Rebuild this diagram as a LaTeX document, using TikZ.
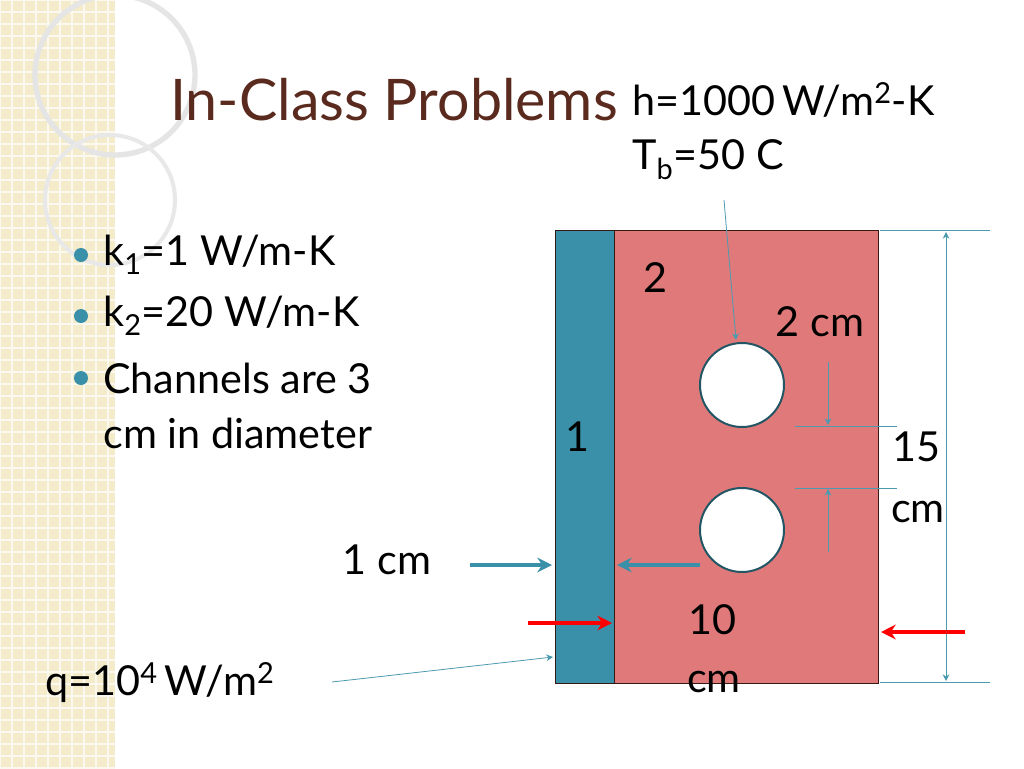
\documentclass[tikz,border=0pt]{standalone}
\usepackage{fontspec}
\setmainfont{Lato}
\usetikzlibrary{arrows.meta}
\definecolor{teal1}{HTML}{3A90A8}
\definecolor{pinkc}{HTML}{E07A7A}
\definecolor{brownc}{HTML}{5A2A1E}
\definecolor{thinc}{HTML}{4A9AB0}
\definecolor{beige}{HTML}{F3EBC9}
\tikzset{
 txt/.style={font=\fontsize{31}{34}\selectfont, inner sep=0pt},
 thin/.style={draw=thinc, line width=0.6pt},
 tarrow/.style={draw=teal1, line width=2.5pt, -{Stealth[length=11pt,width=11pt]}},
 rarrow/.style={draw=red, line width=2.5pt, -{Stealth[length=11pt,width=11pt]}},
 darr/.style={thin, -{Stealth[length=5pt,width=5pt]}}
}
\begin{document}
\begin{tikzpicture}[x=0.75pt,y=-0.75pt]
\useasboundingbox (0,0) rectangle (1024,768);
\fill[white] (0,0) rectangle (1024,768);
\fill[beige] (0,0) rectangle (115,768);
\foreach \i in {0,12,...,768} \draw[white!70!beige, line width=0.8pt] (0,\i) -- (115,\i);
\foreach \i in {0,12,...,115} \draw[white!70!beige, line width=0.8pt] (\i,0) -- (\i,768);
\draw[gray!20, line width=4pt] (115,75) circle (80);
\draw[gray!18, line width=3pt] (110,200) circle (65);
\node[anchor=west, font=\fontsize{43}{46}\selectfont, text=brownc, inner sep=0pt] (title) at (170,100) {In-Class Problems};
% bullets
\foreach \y/\t [count=\k] in {255/{k\textsubscript{1}=1 W/m-K},316/{k\textsubscript{2}=20 W/m-K},378/{Channels are 3}}{
 \fill[teal1] (81,\y) circle (7);
 \node[txt, anchor=west] (b\k) at (103,\y) {\t};
}
\node[txt, anchor=west] (b4) at (103,433) {cm in diameter};
% slab
\node[draw=brownc!60!black, fill=teal1, minimum width=44.25pt, minimum height=339.75pt, inner sep=0pt, line width=1pt, anchor=north west] (s1) at (555,230) {};
\node[draw=brownc!60!black, fill=pinkc, minimum width=198pt, minimum height=339.75pt, inner sep=0pt, line width=1pt, anchor=north west] (s2) at (614,230) {};
\node[circle, draw=teal1!60!black, fill=white, line width=1.5pt, minimum size=63pt, inner sep=0pt] (c1) at (742,385) {};
\node[circle, draw=teal1!60!black, fill=white, line width=1.5pt, minimum size=63pt, inner sep=0pt] (c2) at (742,530) {};
% labels
\node[txt] (l2) at (655,278) {2};
\node[txt] (l2cm) at (820,322) {2 cm};
\node[txt] (l1) at (577,437) {1};
\node[txt] (l15) at (916,447) {15};
\node[txt] (lcm15) at (918,512) {cm};
\node[txt] (l10) at (712,620) {10};
\node[txt] (lcm10) at (714,682) {cm};
\node[txt] (l1cm) at (387,560) {1 cm};
\node[txt, anchor=west] (q) at (45,683) {q=10\textsuperscript{4}\,W/m\textsuperscript{2}};
\node[txt, anchor=west] (h) at (632,100) {h=1000\,W/m\textsuperscript{2}-K};
\node[txt, anchor=west] (tb) at (632,160) {T\textsubscript{b}=50 C};
% dimension lines
\coordinate (e1a) at (880,230); \coordinate (e1b) at (990,230);
\coordinate (e2a) at (880,682); \coordinate (e2b) at (990,682);
\draw[thin] (e1a) -- (e1b); \draw[thin] (e2a) -- (e2b);
\coordinate (d1) at (946,232); \coordinate (d2) at (946,681);
\draw[darr, {Stealth[length=5pt,width=5pt]}-{Stealth[length=5pt,width=5pt]}] (d1) -- (d2);
\coordinate (g1a) at (795,426); \coordinate (g1b) at (897,426);
\coordinate (g2a) at (795,488); \coordinate (g2b) at (897,488);
\draw[thin] (g1a) -- (g1b); \draw[thin] (g2a) -- (g2b);
\coordinate (v1) at (828,362); \coordinate (v1e) at (828,425);
\coordinate (v2) at (828,552); \coordinate (v2e) at (828,489);
\draw[darr] (v1) -- (v1e); \draw[darr] (v2) -- (v2e);
\coordinate (ha) at (724,200); \coordinate (hb) at (736,340);
\draw[darr] (ha) -- (hb);
\coordinate (qa) at (332,682); \coordinate (qb) at (553,657);
\draw[darr] (qa) -- (qb);
\coordinate (ta1) at (470,565); \coordinate (ta2) at (552,565);
\coordinate (tb1) at (700,565); \coordinate (tb2) at (617,565);
\draw[tarrow] (ta1) -- (ta2); \draw[tarrow] (tb1) -- (tb2);
\coordinate (ra1) at (528,623); \coordinate (ra2) at (612,623);
\coordinate (rb1) at (965,632); \coordinate (rb2) at (881,632);
\draw[rarrow] (ra1) -- (ra2); \draw[rarrow] (rb1) -- (rb2);
\end{tikzpicture}
\end{document}
